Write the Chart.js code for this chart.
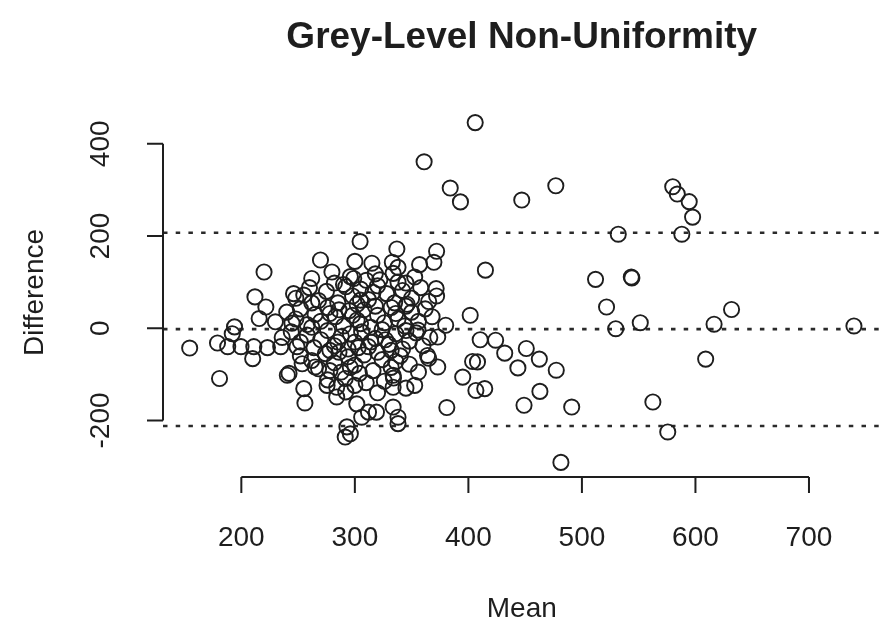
<!DOCTYPE html>
<html><head><meta charset="utf-8">
<script src="https://cdn.jsdelivr.net/npm/chart.js@4"></script>
<style>html,body{margin:0;padding:0;background:#fff}canvas{display:block}</style>
</head><body>
<canvas id="c" width="890" height="629"></canvas>
<script>
const chartTitle = "Grey-Level Non-Uniformity";
const xAxisTitle = "Mean";
const yAxisTitle = "Difference";
const xTickLabels = [200, 300, 400, 500, 600, 700];
const yTickLabels = [-200, 0, 200, 400];
const upperLimit = 207;
const meanDiff = -2;
const lowerLimit = -212;
const xRange = [131, 763];
const yRange = [-320.5, 475.5];

// mean of the two measurements
const meanValues = [
406,361,384,393,447,477,580,584,594.5,597.5,588,532,304.6,415,337,372,369.6,333,315,
512,543.5,544,521.7,529.8,551.4,631.8,616.4,739.6,609,562.5,575.6,481.5,
410.4,424,432,451,462.5,443.6,477.4,408,414.4,406.6,463,449,491,
401.6,403.7,395,381,371.6,373,373,380,352.7,333.7,319,333.7,338,338,352.7,333.7,
220,212,221.6,215.7,230,194,154.5,179,188,199.7,211,223,234.7,249,192,248,244.6,180.8,210,242,253.6,255,256,240.5,265,284,275.5,301.7,306,293,296,291.5,312,300,291.5,
269.7,279.8,262,246,310,299,
296,322,338,345,357,300,290,318,
255,260,268,275,285,292,298,305,312,320,328,335,342,350,358,365,372,282,302,316,338,346,262,
240,248,252,258,265,270,276,283,290,295,302,308,314,320,326,332,338,344,350,356,362,368,262,286,298,318,336,345,305,278,
236,244,252,258,264,270,276,282,288,294,300,306,312,318,324,330,336,342,348,354,360,366,278,296,314,332,285,303,327,345,
252,262,268,274,282,288,294,300,308,316,324,332,340,348,356,365,286,304,278,320,336,296,
276,292,310,320,334,345,284,326,
355.6,364,305,333.7
];
// difference of the two measurements
const diffValues = [
446,361,304,274,278,309,307,291,274.5,241,204,204,188,126,172,167,143,143,141,
106,111,109,46,-1,12,40.6,8.7,5,-67,-160,-225,-291,
-25,-26,-54,-44,-67,-86,-91,-73,-131,-135,-137,-167,-171,
28,-72,-106,-172,86,-19,-84,6.5,-124,-128,-182,-171,-207,-193,111,119,
122,68,46,21,14,3,-43,-32,-40,-40,-40,-42,-40,-40,-12,65,11,-109,-66,-98,-77,-131,-162,-102,-84,-149,-124,-164,-193,-214,-229,-236,-182,-124,-109,
148,122,108,75,104,108,
112,105,132,98,138,145,95,118,
72,88,60,80,55,90,70,85,62,92,75,55,82,65,88,58,70,98,52,78,100,52,55,
35,20,42,8,30,15,45,25,5,38,18,40,2,28,12,45,20,5,35,15,42,25,2,40,28,48,32,48,10,32,
-20,-8,-30,-15,-42,-25,-5,-38,-18,-45,-30,-8,-40,-22,-3,-35,-12,-45,-28,-10,-38,-20,-48,-12,-30,-48,-30,-42,-25,-5,
-60,-70,-88,-55,-75,-95,-62,-80,-58,-92,-68,-85,-60,-78,-95,-65,-52,-98,-92,-52,-72,-85,
-112,-138,-118,-140,-108,-130,-128,-115,
-4,-59,61,-102
];

const points = meanValues.map((m, i) => ({x: m, y: diffValues[i]}));
const hline = v => [{x: xRange[0], y: v}, {x: xRange[1], y: v}];

const FONT = '"Liberation Sans", Arial, Helvetica, sans-serif';
const INK = '#1e1e1e';

const rAxes = {
  id: 'rAxes',
  afterDraw(chart) {
    const {ctx, chartArea: a, scales: {x, y}} = chart;
    ctx.save();
    ctx.strokeStyle = INK; ctx.fillStyle = INK; ctx.lineWidth = 2;
    // x axis
    const ay = a.bottom + 1;
    ctx.beginPath();
    ctx.moveTo(x.getPixelForValue(xTickLabels[0]), ay);
    ctx.lineTo(x.getPixelForValue(xTickLabels[xTickLabels.length-1]), ay);
    xTickLabels.forEach(t => { const p = x.getPixelForValue(t); ctx.moveTo(p, ay); ctx.lineTo(p, ay + 16); });
    ctx.stroke();
    ctx.font = '28px ' + FONT; ctx.textAlign = 'center'; ctx.textBaseline = 'middle';
    xTickLabels.forEach(t => ctx.fillText(String(t), x.getPixelForValue(t), 538));
    ctx.fillText(xAxisTitle, (a.left + a.right)/2, 609);
    // y axis
    const ax = a.left;
    ctx.beginPath();
    ctx.moveTo(ax, y.getPixelForValue(yTickLabels[0]));
    ctx.lineTo(ax, y.getPixelForValue(yTickLabels[yTickLabels.length-1]));
    yTickLabels.forEach(t => { const p = y.getPixelForValue(t); ctx.moveTo(ax, p); ctx.lineTo(ax - 16, p); });
    ctx.stroke();
    yTickLabels.forEach(t => {
      ctx.save(); ctx.translate(101, y.getPixelForValue(t)); ctx.rotate(-Math.PI/2);
      ctx.fillText(String(t), 0, 0); ctx.restore();
    });
    ctx.save(); ctx.translate(35, (a.top + a.bottom)/2); ctx.rotate(-Math.PI/2);
    ctx.fillText(yAxisTitle, 0, 0); ctx.restore();
    // title
    ctx.font = 'bold 37px ' + FONT;
    ctx.fillText(chartTitle, (a.left + a.right)/2, 38);
    ctx.restore();
  }
};

const dashed = {type: 'line', borderColor: '#2a2a2a', borderWidth: 2.6, borderDash: [4.5, 8.2], pointRadius: 0, fill: false, order: 2};

new Chart(document.getElementById('c'), {
  type: 'scatter',
  data: {
    datasets: [
      {label: 'points', data: points, pointStyle: 'circle', pointRadius: 7.6, pointBorderWidth: 1.9,
       borderColor: INK, backgroundColor: 'rgba(0,0,0,0)', pointHoverRadius: 7.6, order: 1},
      Object.assign({label: 'upper', data: hline(upperLimit)}, dashed),
      Object.assign({label: 'mean', data: hline(meanDiff)}, dashed),
      Object.assign({label: 'lower', data: hline(lowerLimit)}, dashed)
    ]
  },
  options: {
    responsive: false, animation: false, devicePixelRatio: 1,
    layout: {padding: {left: 163, right: 4, top: 109, bottom: 153}},
    plugins: {legend: {display: false}, tooltip: {enabled: false}, title: {display: false}},
    scales: {
      x: {type: 'linear', min: xRange[0], max: xRange[1], display: false},
      y: {type: 'linear', min: yRange[0], max: yRange[1], display: false}
    },
    events: []
  },
  plugins: [rAxes]
});
</script>
</body></html>
